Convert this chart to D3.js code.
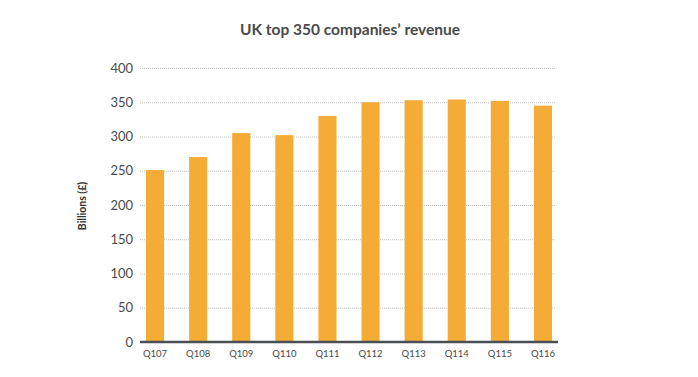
<!DOCTYPE html>
<html>
<head>
<meta charset="utf-8">
<script src="https://cdn.jsdelivr.net/npm/d3@7"></script>
<style>
  body { margin: 0; background: #fff; }
  svg { display: block; font-family: "Lato", "Open Sans", sans-serif; }
</style>
</head>
<body>
<div id="chart-area"></div>
<script>
// data
const quarters = ["Q107","Q108","Q109","Q110","Q111","Q112","Q113","Q114","Q115","Q116"];
const revenue = [251, 270, 305, 302, 330, 350, 353, 354, 352, 345];
const yTicks = [0, 50, 100, 150, 200, 250, 300, 350, 400];

const width = 698, height = 377;

const svg = d3.select("#chart-area")
	.append("svg")
	.attr("width", width)
	.attr("height", height);

// scales
const x = d3.scaleBand()
	.domain(quarters)
	.range([133.5, 564.5])
	.paddingInner(0.58)
	.paddingOuter(0.29);

const y = d3.scaleLinear()
	.domain([0, 400])
	.range([342, 68]);

// gridlines
svg.append("g")
	.selectAll("line")
	.data(yTicks.filter(d => d > 0))
	.enter()
	.append("line")
	.attr("x1", 140)
	.attr("x2", 556)
	.attr("y1", d => y(d) + 0.5)
	.attr("y2", d => y(d) + 0.5)
	.attr("stroke", "#c2c2c2")
	.attr("stroke-width", 1)
	.attr("stroke-dasharray", "1,1");

// y axis labels
const yAxis = d3.axisLeft(y)
	.tickValues(yTicks)
	.tickSize(0)
	.tickPadding(7);

const yAxisGroup = svg.append("g")
	.attr("transform", "translate(140,0)")
	.call(yAxis);
yAxisGroup.select(".domain").remove();
yAxisGroup.selectAll("text")
	.attr("font-size", "13px")
	.attr("fill", "#4a4a4a")
	.attr("font-family", "Lato, sans-serif");

// bars
svg.append("g")
	.selectAll("rect")
	.data(quarters)
	.enter()
	.append("rect")
	.attr("x", d => x(d))
	.attr("width", x.bandwidth())
	.attr("y", (d, i) => y(revenue[i]))
	.attr("height", (d, i) => y(0) - y(revenue[i]))
	.attr("fill", "#f5ac37");

// x axis
const xAxis = d3.axisBottom(x)
	.tickSize(0)
	.tickPadding(8);

const xAxisGroup = svg.append("g")
	.attr("transform", "translate(0,342)")
	.call(xAxis);
xAxisGroup.select(".domain").remove();
xAxisGroup.selectAll("text")
	.attr("font-size", "9.5px")
	.attr("fill", "#4a4a4a")
	.attr("font-family", "Lato, sans-serif");

// baseline
svg.append("line")
	.attr("x1", 140)
	.attr("x2", 558)
	.attr("y1", y(0))
	.attr("y2", y(0))
	.attr("stroke", "#4a4f55")
	.attr("stroke-width", 2.5);

// title
svg.append("text")
	.attr("x", 350)
	.attr("y", 35)
	.attr("text-anchor", "middle")
	.attr("font-size", "15.5px")
	.attr("font-weight", "bold")
	.attr("fill", "#4a4a4a")
	.text("UK top 350 companies\u2019 revenue");

// y label
svg.append("text")
	.attr("transform", "translate(86,206) rotate(-90)")
	.attr("text-anchor", "middle")
	.attr("font-size", "10.5px")
	.attr("font-weight", "bold")
	.attr("fill", "#333")
	.text("Billions (\u00a3)");
</script>
</body>
</html>
